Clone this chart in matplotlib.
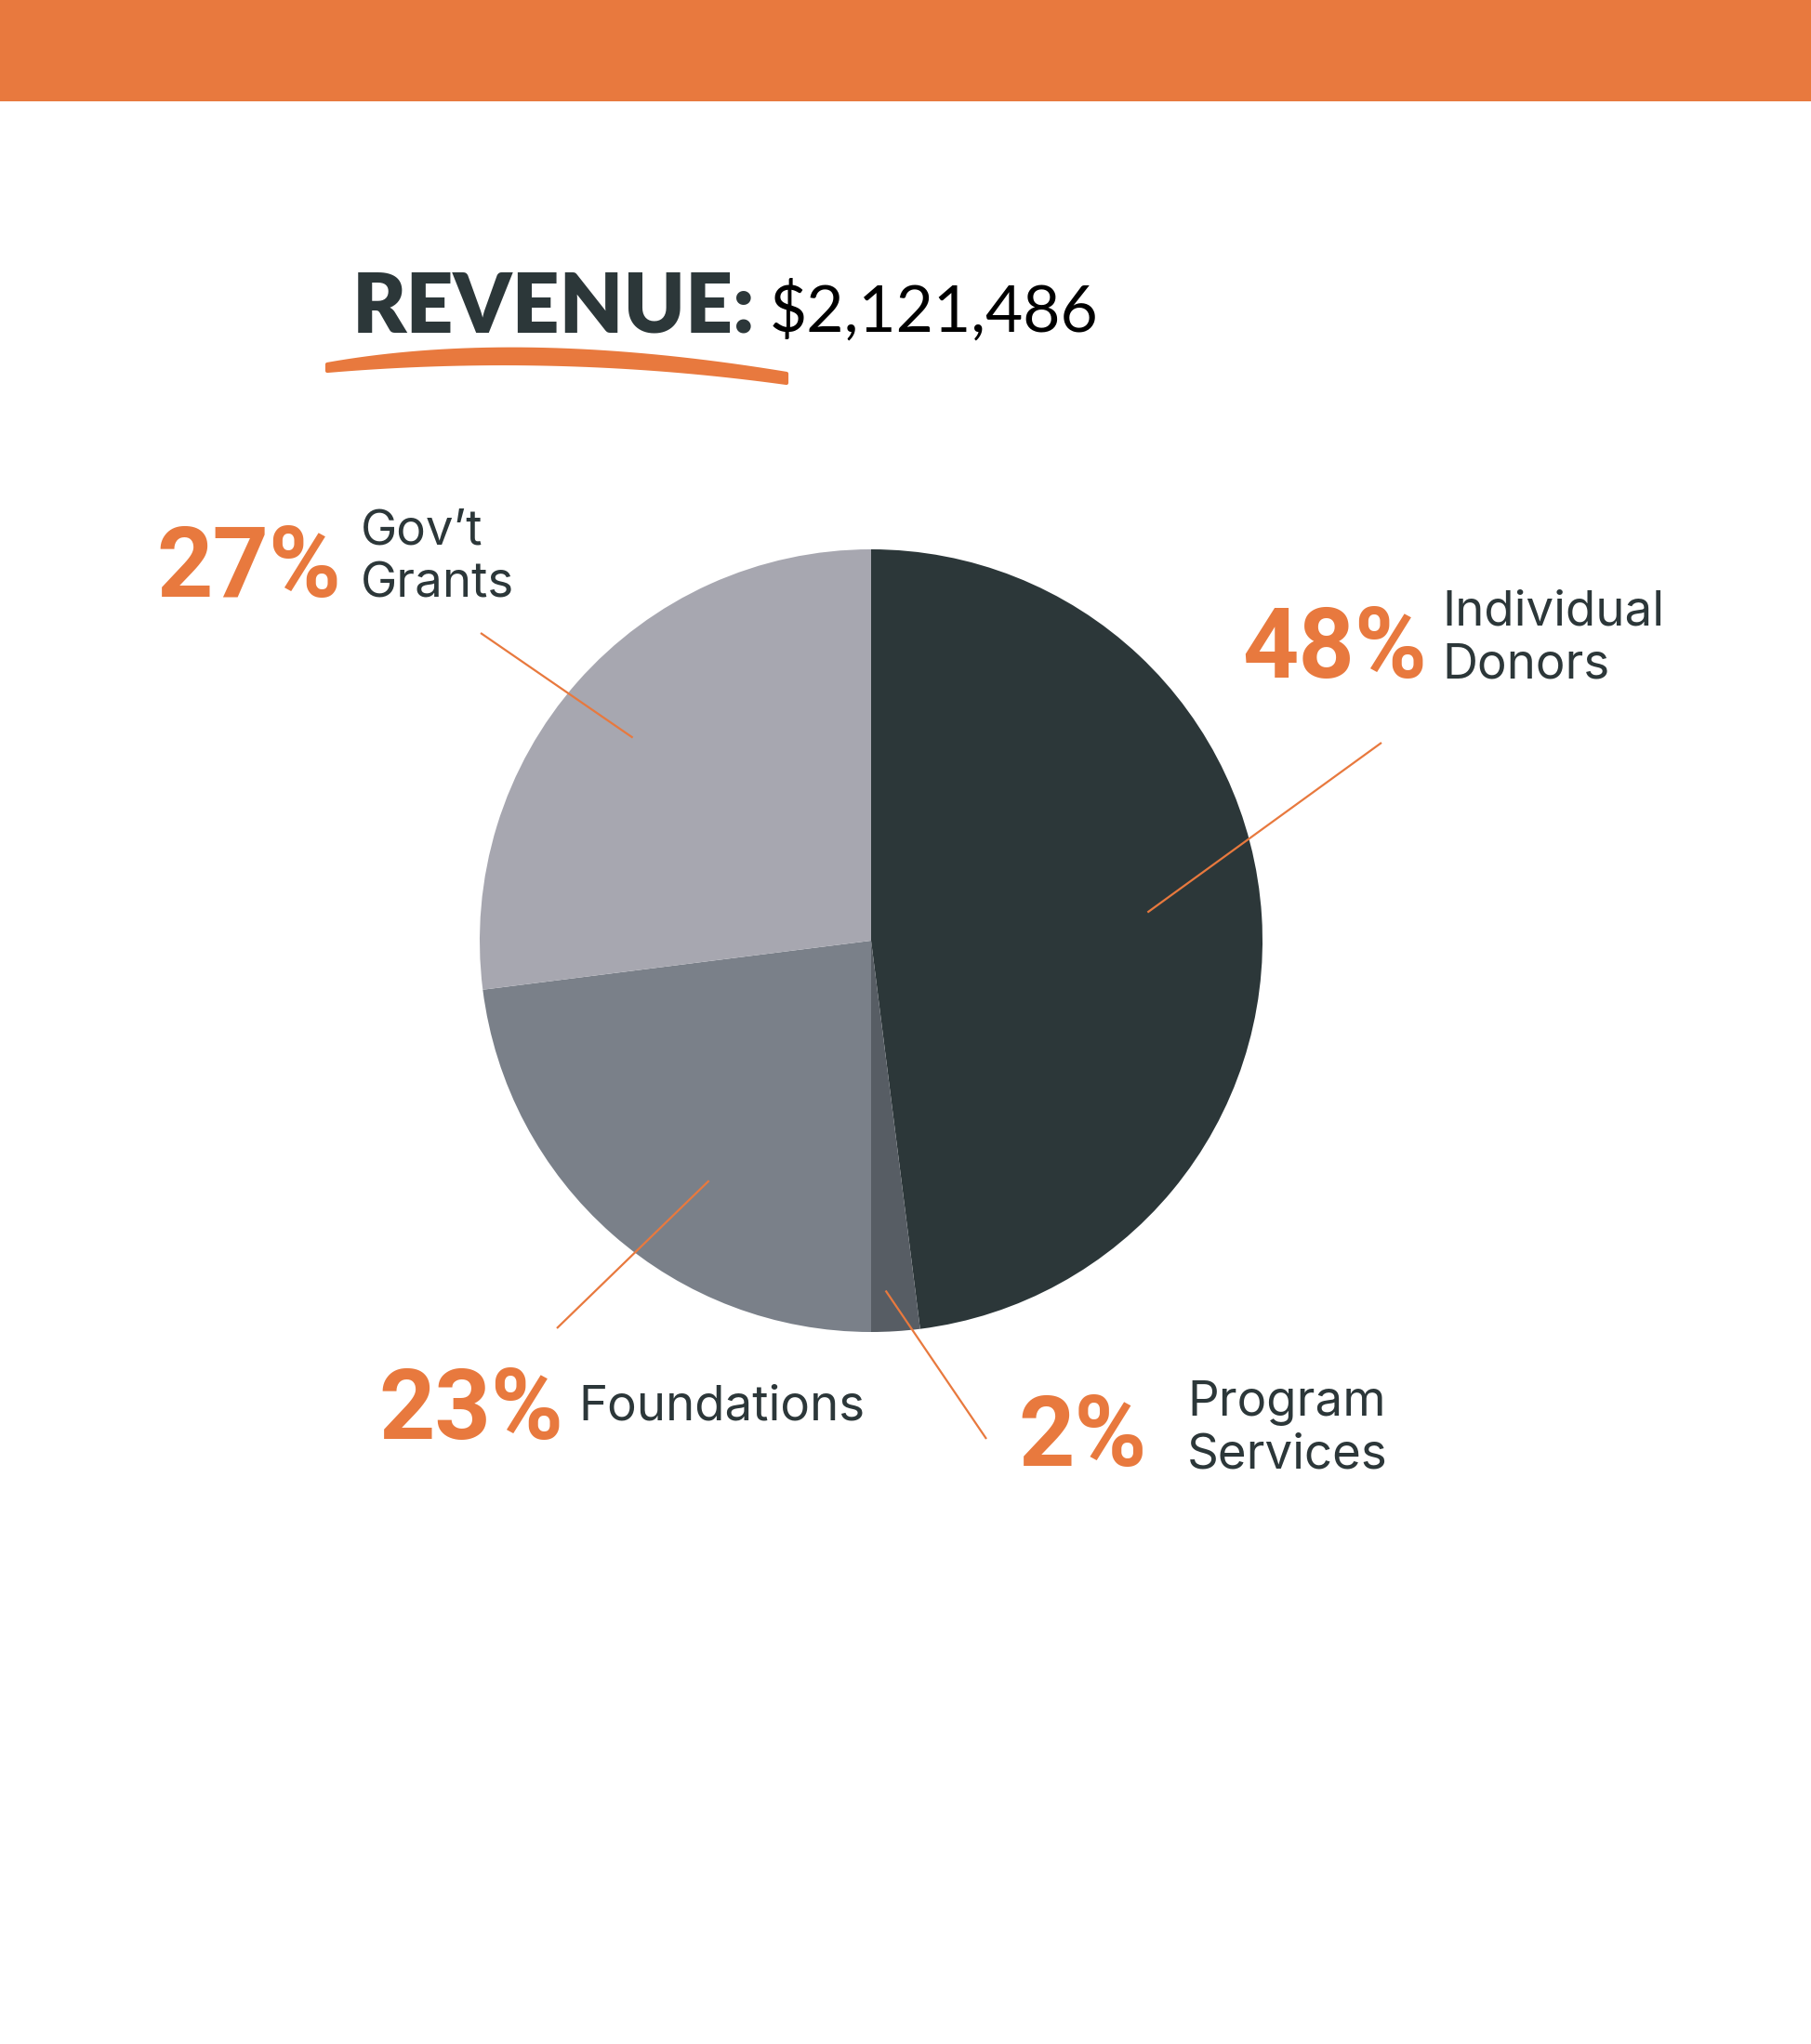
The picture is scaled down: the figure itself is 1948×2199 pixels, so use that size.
#!/usr/bin/env python3
"""Revenue breakdown pie, drawn on a pixel-sized canvas."""
import numpy as np
import matplotlib
matplotlib.use("Agg")
import matplotlib.pyplot as plt
from matplotlib.patches import Rectangle, Polygon

W, H = 1949, 2199
ORANGE = "#e8793e"
DARK = "#2c3739"

# data
categories = ["Individual\nDonors", "Program\nServices", "Foundations", "Gov\u2019t\nGrants"]
shares = [48, 2, 23, 27]
slice_colors = ["#2c3739", "#575d64", "#7a8089", "#a7a7b0"]
total_label = "$2,121,486"

# layout (pixels from top-left): pct right edge/baseline, name left/last baseline,
# leader outer end, leader inner point (fraction along wedge, fraction of radius)
pct_pos = [(1535, 729), (1234, 1577), (606, 1548), (367, 642)]
name_pos = [(1551, 729), (1277, 1580), (622, 1527), (388, 642)]
leader_out = [(1486, 799), (1061, 1548), (599, 1429), (517, 681)]
leader_in = [(0.513, 0.71), (0.33, 0.895), (0.589, 0.74), (0.51, 0.80)]
CX, CY, R = 937, 1012, 421


def fy(y):
    return H - y


def bez(p0, p1, p2, n=40):
    t = np.linspace(0, 1, n)[:, None]
    p0, p1, p2 = map(np.asarray, (p0, p1, p2))
    return (1 - t) ** 2 * p0 + 2 * (1 - t) * t * p1 + t ** 2 * p2


fig = plt.figure(figsize=(W / 100, H / 100), dpi=100)
ax = fig.add_axes([0, 0, 1, 1])

wedges, _ = ax.pie(shares, colors=slice_colors, startangle=90, counterclock=False,
                   center=(CX, fy(CY)), radius=R, frame=True,
                   wedgeprops=dict(linewidth=0))
ax.set_xlim(0, W); ax.set_ylim(0, H); ax.set_aspect("equal"); ax.axis("off")

# top band
ax.add_patch(Rectangle((0, fy(109)), W, 109, color=ORANGE, lw=0))

# title
ax.text(379, fy(357), "REVENUE:", fontsize=64, fontweight="heavy", family="Lato",
        color=DARK, va="baseline", ha="left")
ax.text(828, fy(357), total_label, fontsize=50, family="Lato", color="black",
        va="baseline", ha="left")

# brush underline
top = bez((352, 392), (560, 355), (846, 402))
bot = bez((846, 412), (600, 378), (352, 399))
pts = np.vstack([top, bot])
pts[:, 1] = H - pts[:, 1]
ax.add_patch(Polygon(pts, closed=True, facecolor=ORANGE, edgecolor=ORANGE,
                     lw=3, joinstyle="round"))

# labels and leader lines
for w, name, s, pp, npos, lo, (fa, fr) in zip(wedges, categories, shares, pct_pos,
                                               name_pos, leader_out, leader_in):
    ang = np.deg2rad(w.theta1 + fa * (w.theta2 - w.theta1))
    xin = CX + fr * R * np.cos(ang)
    yin = fy(CY) + fr * R * np.sin(ang)
    ax.plot([lo[0], xin], [fy(lo[1]), yin], color=ORANGE, lw=1.6,
            solid_capstyle="butt")
    ax.text(pp[0], fy(pp[1]), f"{s}%", fontsize=76, fontweight="bold",
            family=["Roboto", "Lato"], color=ORANGE, va="baseline", ha="right")
    ax.text(npos[0], fy(npos[1]), name, fontsize=38, family=["Inter", "Lato"],
            color=DARK, va="baseline", ha="left", linespacing=1.2)

fig.savefig("out.png", dpi=100, facecolor="white")
